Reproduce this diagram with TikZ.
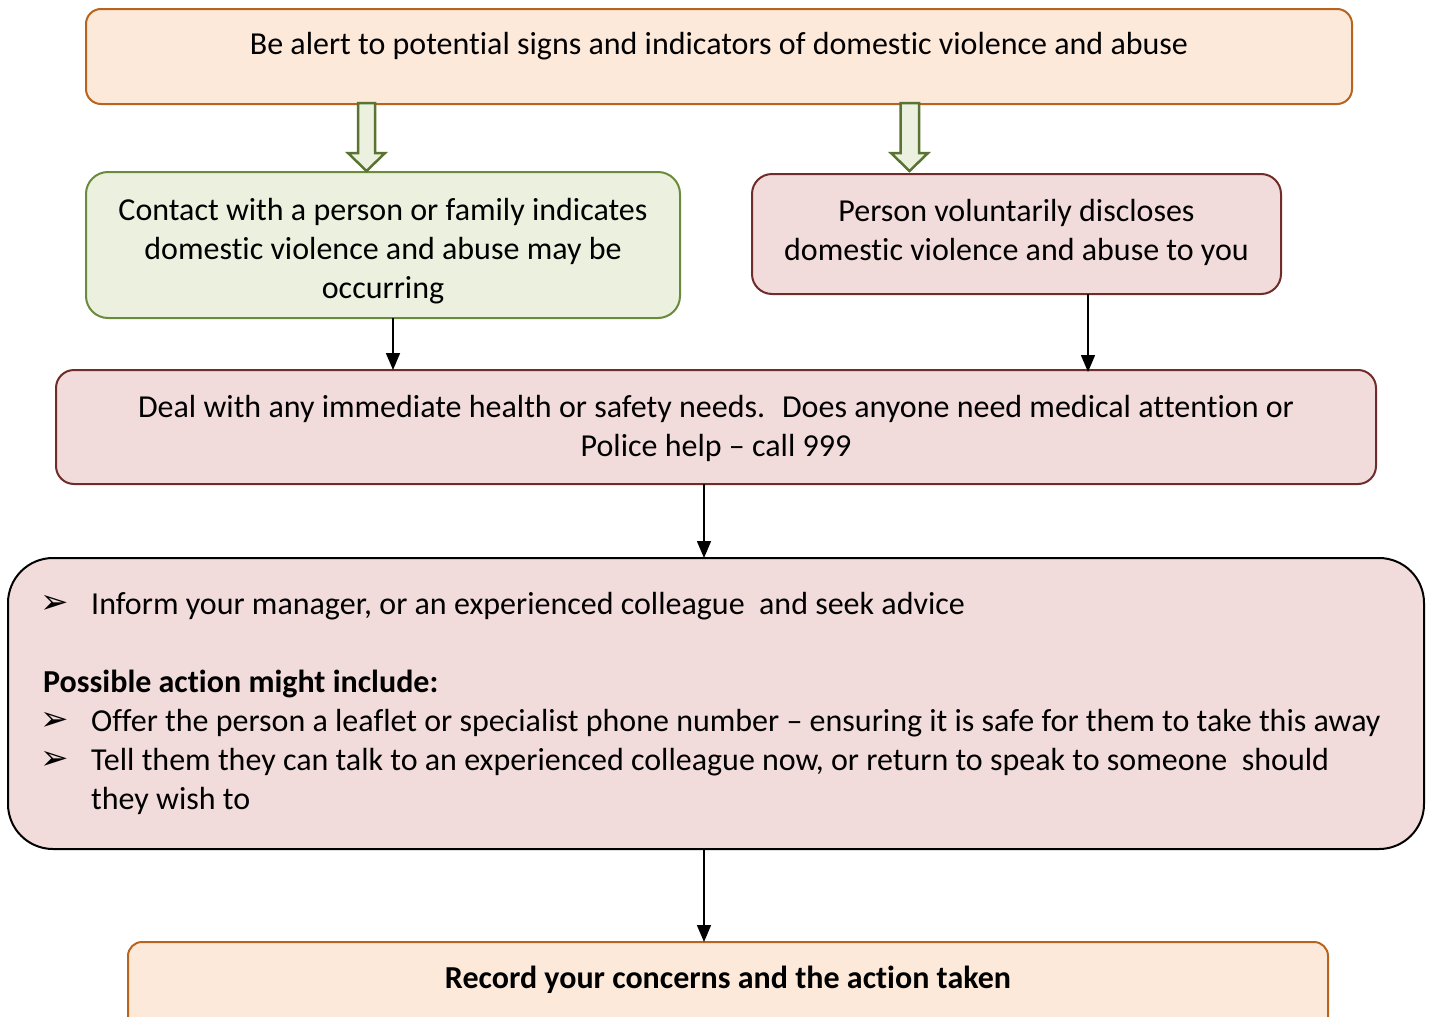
\documentclass[tikz,border=0pt]{standalone}
\usepackage{fontspec}
\setmainfont{Carlito}[RawFeature={-liga;-clig;-dlig;-calt;-rlig;-hlig}]
\newfontfamily\dejavu{DejaVu Sans}
\newcommand\tiNL{t\kern0pt i}
\usetikzlibrary{arrows.meta}
\definecolor{peachfill}{HTML}{FCE9DA}
\definecolor{peachline}{HTML}{B8641E}
\definecolor{greenfill}{HTML}{EBF1DE}
\definecolor{greenline}{HTML}{6A8A3C}
\definecolor{arrowline}{HTML}{5A7232}
\definecolor{pinkfill}{HTML}{F2DCDB}
\definecolor{pinkline}{HTML}{702B2B}
\tikzset{
  boxbase/.style={draw, line width=2pt, rectangle, inner sep=0pt, outer sep=0pt},
  peachbox/.style={boxbase, draw=peachline, fill=peachfill},
  greenbox/.style={boxbase, draw=greenline, fill=greenfill},
  pinkbox/.style={boxbase, draw=pinkline, fill=pinkfill},
  txt/.style={inner sep=0pt, anchor=base, font=\fontsize{32}{39}\selectfont},
  txtl/.style={txt, anchor=base west},
  bul/.style={inner sep=0pt, anchor=center, font=\dejavu\fontsize{34}{40}\selectfont},
  conn/.style={line width=1.6pt, -{Triangle[length=17pt,width=14pt]}},
  hollow/.style={line width=2.5pt, draw=arrowline, fill=greenfill, line join=miter},
}
\begin{document}
\begin{tikzpicture}[x=1pt,y=-1pt]
\useasboundingbox (0,0) rectangle (1432,1017);
\clip (0,0) rectangle (1432,1017);

% boxes
\node[peachbox, rounded corners=15pt, minimum width=1266pt, minimum height=95pt] (top) at (719,56.5) {};
\node[greenbox, rounded corners=22pt, minimum width=594pt, minimum height=146pt] (green) at (383,245) {};
\node[pinkbox, rounded corners=20pt, minimum width=529pt, minimum height=120pt] (right) at (1016.5,234) {};
\node[pinkbox, rounded corners=18pt, minimum width=1320pt, minimum height=114pt] (deal) at (716,427) {};
\node[boxbase, draw=black, fill=pinkfill, rounded corners=45pt, minimum width=1416pt, minimum height=291pt] (big) at (716,703.5) {};
\node[peachbox, rounded corners=14pt, minimum width=1200pt, minimum height=96pt] (bottom) at (728,990) {};

% hollow arrows
\draw[hollow] (358,103) -- (375,103) -- (375,153) -- (385,153) -- (366.5,171) -- (348,153) -- (358,153) -- cycle;
\draw[hollow] (900.5,103) -- (919,103) -- (919,153) -- (928,153) -- (909.5,171) -- (891,153) -- (900.5,153) -- cycle;

% connectors
\coordinate (cA) at (393,0);
\coordinate (cB) at (1088,0);
\coordinate (cC) at (704,0);
\draw[conn] (green.south -| cA) -- (deal.north -| cA);
\draw[conn] (right.south -| cB) -- ([yshift=-2pt]deal.north -| cB);
\draw[conn] (deal.south -| cC) -- (big.north -| cC);
\draw[conn] (big.south -| cC) -- (bottom.north -| cC);

% texts
\node[txt] (t1) at (719,54) {Be alert to poten\tiNL al signs and indicators of domes\tiNL c violence and abuse};
\node[txt] (g1) at (383,220) {Contact with a person or family indicates};
\node[txt] (g2) at (383,259) {domes\tiNL c violence and abuse may be};
\node[txt] (g3) at (383,298) {occurring};
\node[txt] (r1) at (1016.5,221) {Person voluntarily discloses};
\node[txt] (r2) at (1016.5,260) {domes\tiNL c violence and abuse to you};
\node[txt] (d1) at (716,417) {Deal with any immediate health or safety needs.~ Does anyone need medical at\kern0pt ten\tiNL on or};
\node[txt] (d2) at (716,456) {Police help -- call 999};

\node[bul] (b1) at (55,604) {➢};
\node[txtl] (i1) at (91,614) {Inform your manager, or an experienced colleague~ and seek advice};
\node[txtl] (p1) at (43,692) {\bfseries Possible ac\tiNL on might include:};
\node[bul] (b2) at (55,721) {➢};
\node[txtl] (i2) at (91,731) {Offer the person a leaflet or specialist phone number -- ensuring it is safe for them to take this away};
\node[bul] (b3) at (55,760) {➢};
\node[txtl] (i3) at (91,770) {Tell them they can talk to an experienced colleague now, or return to speak to someone~ should};
\node[txtl] (i4) at (91,809) {they wish to};

\node[txt] (rec) at (728,988) {\bfseries Record your concerns and the ac\tiNL on taken};
\end{tikzpicture}
\end{document}
